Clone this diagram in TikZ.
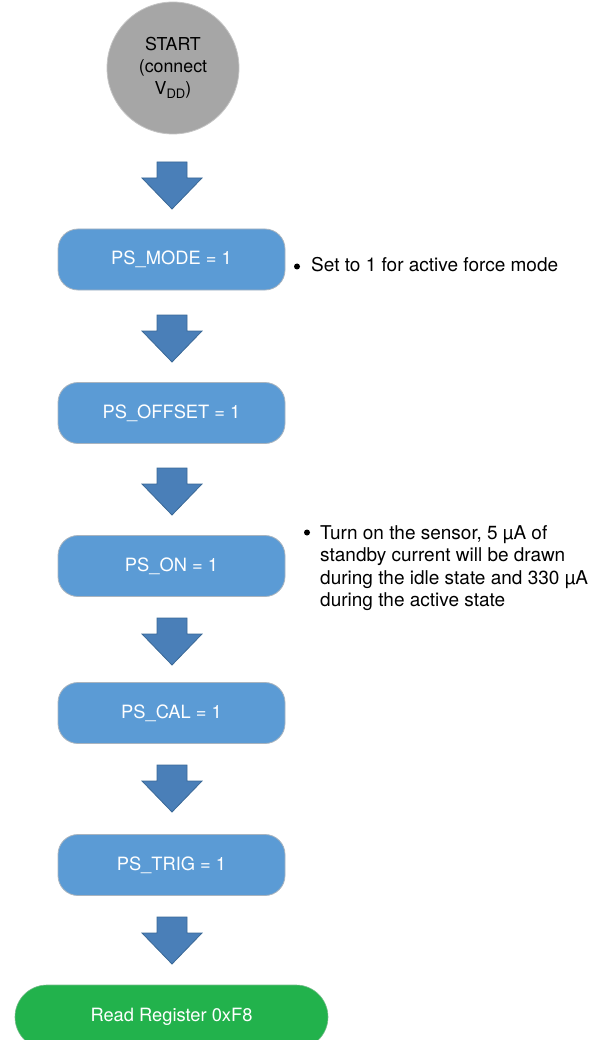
\documentclass[tikz,border=0pt]{standalone}
\usepackage{fontspec}
\setmainfont{TeX Gyre Heros}
\definecolor{boxblue}{HTML}{5B9BD5}
\definecolor{boxedge}{HTML}{A9B4BF}
\definecolor{arrowfill}{HTML}{4A7FB8}
\definecolor{arrowedge}{HTML}{3A6896}
\definecolor{startgray}{HTML}{A6A6A6}
\definecolor{startedge}{HTML}{C4C4C4}
\definecolor{endgreen}{HTML}{22B24C}
\tikzset{
  stepbox/.style={draw=boxedge, line width=0.8pt, fill=boxblue, rounded corners=20pt,
    minimum width=227pt, minimum height=61pt, text=white, inner sep=0pt,
    font=\fontsize{18.3}{22}\selectfont},
  startnode/.style={circle, draw=startedge, line width=0.8pt, fill=startgray,
    minimum size=132pt, inner sep=0pt, align=center,
    font=\fontsize{17.8}{22}\selectfont},
  endbox/.style={fill=endgreen, draw=endgreen!80!black!60, line width=0.6pt,
    rounded corners=32pt, minimum width=313pt, minimum height=64pt,
    text=white, inner sep=0pt, font=\fontsize{18.3}{22}\selectfont},
  note/.style={inner sep=0pt, font=\fontsize{19}{22.5}\selectfont},
  dot/.style={circle, fill=black, inner sep=0pt, minimum size=6pt},
  blockarrow/.style={fill=arrowfill, draw=arrowedge, line width=0.8pt, line join=miter},
  pics/downarrow/.style={code={
    \draw[blockarrow] (-15,0) -- (15,0) -- (15,16) -- (30,16) -- (0,47)
      -- (-30,16) -- (-15,16) -- cycle;}}
}
\begin{document}
\begin{tikzpicture}[x=1pt, y=-1pt]
  \useasboundingbox (0,0) rectangle (595,1040);
  \clip (0,0) rectangle (595,1040);

  % start terminal
  \node[startnode] (start) at (173,68)
    {START\\(connect\\V\raisebox{-0.35ex}{\fontsize{13}{13}\selectfont DD})};

  % register write steps
  \node[stepbox] (mode)   at (171.5,259.5) {PS\_MODE = 1};
  \node[stepbox] (offset) at (171.5,413)   {PS\_OFFSET = 1};
  \node[stepbox] (on)     at (171.5,566)   {PS\_ON = 1};
  \node[stepbox] (cal)    at (171.5,713)   {PS\_CAL = 1};
  \node[stepbox] (trig)   at (171.5,865)   {PS\_TRIG = 1};

  % final read
  \node[endbox] (read) at (171.5,1017) {Read Register 0xF8};

  % block arrows between the stages
  \pic at (172,162) {downarrow};
  \pic at (172,315) {downarrow};
  \pic at (172,468) {downarrow};
  \pic at (172,618) {downarrow};
  \pic at (172,765) {downarrow};
  \pic at (172,917) {downarrow};

  % side notes
  \node[dot] (b1) at (297,266.5) {};
  \node[note, anchor=base west] (n1) at (311,272) {Set to 1 for active force mode};

  \node[dot] (b2) at (307,532.5) {};
  \node[note, anchor=base west] (n2) at (320,539)
    {\begin{tabular}[t]{@{}l@{}}
      Turn on the sensor, 5 µA of\\
      standby current will be drawn\\
      during the idle state and 330 µA\\
      during the active state
    \end{tabular}};
\end{tikzpicture}
\end{document}
